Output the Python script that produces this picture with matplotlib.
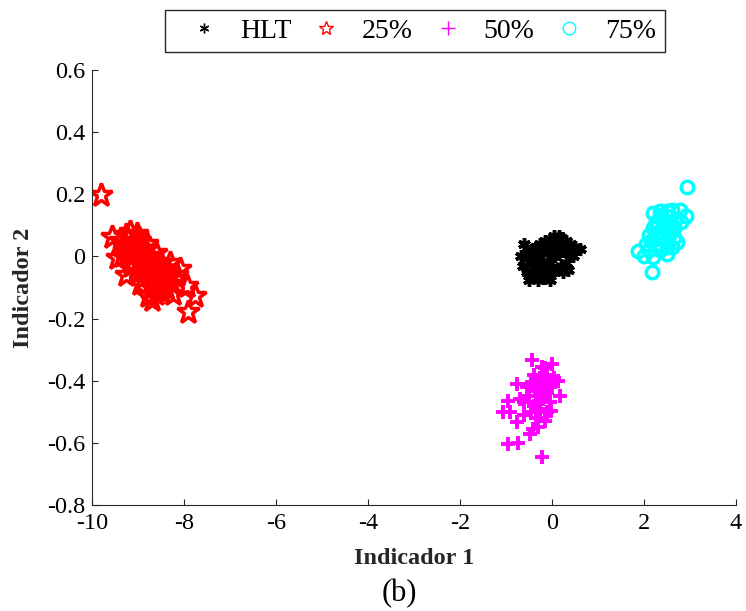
import matplotlib
matplotlib.use("Agg")
import matplotlib.pyplot as plt
from matplotlib.lines import Line2D

plt.rcParams["font.family"] = ["Liberation Serif", "DejaVu Serif"]

# HLT cluster
hlt_x = [-0.67, -0.60, -0.62, -0.55, -0.50, -0.55, -0.45, -0.45, -0.40, -0.35,
         -0.35, -0.30, -0.30, -0.25, -0.25, -0.20, -0.20, -0.15, -0.15, -0.10,
         -0.10, -0.05, -0.05, 0.00, 0.00, 0.05, 0.05, 0.10, 0.10, 0.15,
         0.15, 0.20, 0.20, 0.25, 0.30, 0.30, 0.35, 0.40, 0.45, 0.50,
         0.60, 0.35, 0.25, -0.05, 0.00, -0.30, -0.40, 0.10, 0.40, -0.20]
hlt_y = [0.000, 0.040, -0.030, -0.050, -0.075, 0.010, -0.020, 0.020, -0.060, 0.030,
         -0.030, -0.075, 0.000, 0.040, -0.040, -0.070, 0.010, 0.050, -0.030, -0.060,
         0.020, 0.055, -0.020, -0.050, 0.030, 0.065, 0.000, -0.040, 0.040, 0.065,
         0.010, -0.030, 0.060, 0.030, 0.050, -0.020, 0.020, 0.040, 0.000, 0.030,
         0.025, -0.045, -0.050, -0.075, 0.000, 0.030, 0.000, 0.010, 0.010, -0.020]

# 25% cluster
p25_x = [-9.81, -9.57, -9.46, -9.40, -9.30, -9.25, -9.17, -9.03, -9.10, -9.20,
         -9.25, -9.15, -9.00, -8.95, -8.90, -8.85, -8.80, -8.90, -8.78, -8.70,
         -8.75, -8.65, -8.60, -8.55, -8.52, -8.45, -8.40, -8.35, -8.30, -8.25,
         -8.23, -8.15, -8.09, -8.60, -8.70, -8.65, -9.05, -8.95, -7.94, -7.76,
         -7.91, -9.35, -8.50, -8.80, -9.10, -8.95, -8.85, -8.70, -8.55, -8.40,
         -8.30, -9.30, -9.00, -8.60]
p25_y = [0.197, 0.062, -0.004, 0.050, 0.040, 0.070, 0.078, 0.073, 0.020, 0.000,
         -0.060, -0.030, 0.030, 0.050, -0.010, 0.020, -0.050, -0.070, -0.126, -0.100,
         0.000, -0.030, 0.010, -0.060, -0.110, -0.080, -0.040, -0.070, -0.020, -0.090,
         -0.120, -0.060, -0.039, -0.120, -0.140, -0.080, -0.050, -0.090, -0.094, -0.126,
         -0.180, 0.000, -0.020, 0.040, 0.050, 0.000, -0.030, -0.060, -0.090, -0.100,
         -0.060, 0.020, -0.020, -0.040]

# 50% cluster
p50_x = [-0.44, -0.01, -0.22, 0.14, -0.77, -0.95, -1.06, -0.91, -0.03, -0.77,
         -0.48, -0.41, -0.95, -0.73, -0.22, 0.17, -0.15, -0.37, -0.30, -0.20,
         -0.10, -0.40, -0.50, -0.60, -0.30, -0.20, -0.10, 0.00, -0.45, -0.35,
         -0.25, -0.60, -0.05, -0.15, 0.05, -0.55, -0.70, -0.30, -0.35, -0.25,
         -0.15, -0.05, -0.45, -0.25, -0.10, -0.40, -0.20]
p50_y = [-0.333, -0.346, -0.357, -0.400, -0.410, -0.465, -0.502, -0.502, -0.497, -0.534,
         -0.572, -0.556, -0.604, -0.599, -0.645, -0.448, -0.529, -0.432, -0.400, -0.420,
         -0.380, -0.380, -0.450, -0.470, -0.470, -0.460, -0.440, -0.410, -0.500, -0.520,
         -0.490, -0.510, -0.470, -0.360, -0.390, -0.420, -0.460, -0.550, -0.450, -0.430,
         -0.400, -0.420, -0.410, -0.390, -0.500, -0.480, -0.450]

# 75% cluster
p75_x = [2.94, 2.17, 1.88, 1.99, 2.20, 2.35, 2.50, 2.60, 2.78, 2.91,
         2.80, 2.70, 2.60, 2.50, 2.40, 2.30, 2.20, 2.10, 2.15, 2.30,
         2.40, 2.55, 2.65, 2.71, 2.60, 2.49, 2.35, 2.20, 2.10, 2.05,
         2.45, 2.25, 2.50, 2.35, 2.45, 2.55, 2.30, 2.40, 2.65, 2.25,
         2.50, 2.35]
p75_y = [0.222, -0.050, 0.019, 0.003, 0.140, 0.145, 0.145, 0.150, 0.150, 0.130,
         0.110, 0.120, 0.100, 0.110, 0.120, 0.100, 0.090, 0.070, 0.050, 0.060,
         0.080, 0.070, 0.060, 0.046, 0.030, 0.009, 0.020, -0.002, 0.020, 0.040,
         0.050, 0.110, 0.030, 0.040, 0.090, 0.100, 0.080, 0.060, 0.090, 0.070,
         0.130, 0.130]

x_ticks = [-10, -8, -6, -4, -2, 0, 2, 4]
y_ticks = [-0.8, -0.6, -0.4, -0.2, 0, 0.2, 0.4, 0.6]
y_tick_labels = ["-0.8", "-0.6", "-0.4", "-0.2", "0", "0.2", "0.4", "0.6"]

fig = plt.figure(figsize=(7.46, 6.11), dpi=100)
ax = fig.add_axes([0.1233, 0.1735, 0.8633, 0.7119])

asterisk = (6, 2, 0)
ax.plot(hlt_x, hlt_y, ls="none", marker=asterisk, ms=9, mew=2.5, color="black")
ax.plot(p25_x, p25_y, ls="none", marker="*", ms=17, mew=2.5, mfc="none", mec="red")
ax.plot(p50_x, p50_y, ls="none", marker="+", ms=10, mew=2.8, color="magenta")
ax.plot(p75_x, p75_y, ls="none", marker="o", ms=9, mew=2.5, mfc="none", mec="cyan")

ax.set_xlim(-10, 4)
ax.set_ylim(-0.8, 0.6)
ax.set_xticks(x_ticks)
ax.set_xticklabels([str(t) for t in x_ticks])
ax.set_yticks(y_ticks)
ax.set_yticklabels(y_tick_labels)
ax.tick_params(direction="in", length=4, width=0.8, labelsize=17.5, colors="#262626",
               labelcolor="black")
ax.tick_params(axis="x", pad=6)
ax.tick_params(axis="y", pad=5)
for side in ("top", "right"):
    ax.spines[side].set_visible(False)
for side in ("left", "bottom"):
    ax.spines[side].set_color("#262626")
    ax.spines[side].set_linewidth(0.8)

ax.set_xlabel("Indicador 1", fontsize=17.5, fontweight="bold", color="#262626", labelpad=10)
ax.set_ylabel("Indicador 2", fontsize=17.5, fontweight="bold", color="#262626", labelpad=9)

fig.text(0.536, 0.029, "(b)", fontsize=22, ha="center", va="center")

handles = [
    Line2D([], [], ls="none", marker=asterisk, ms=7, mew=1, color="black"),
    Line2D([], [], ls="none", marker="*", ms=10, mew=1, mfc="none", mec="red"),
    Line2D([], [], ls="none", marker="+", ms=10, mew=1, color="magenta"),
    Line2D([], [], ls="none", marker="o", ms=9, mew=1, mfc="none", mec="cyan"),
]
leg = fig.legend(handles, ["HLT", "25%", "50%", "75%"], loc="upper center",
                 bbox_to_anchor=(0.556, 0.984), ncol=4, fontsize=20,
                 handlelength=2.2, handletextpad=0.2, columnspacing=0.15,
                 borderpad=0.3, borderaxespad=0, frameon=True, fancybox=False,
                 framealpha=1)
leg.get_frame().set_edgecolor("#262626")
leg.get_frame().set_linewidth(1.0)

fig.savefig("out.png", dpi=100)
